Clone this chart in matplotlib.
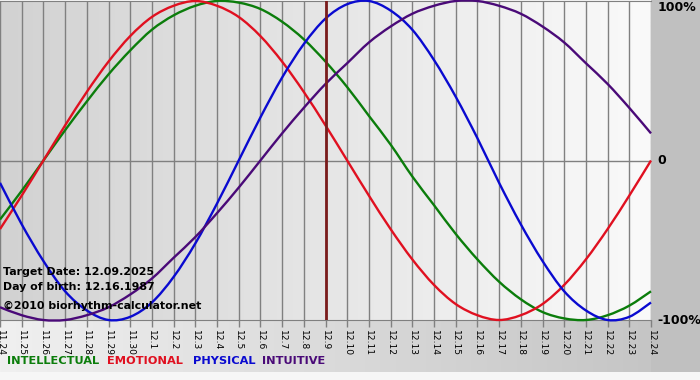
import numpy as np
import matplotlib
matplotlib.use("Agg")
import matplotlib.pyplot as plt
from matplotlib.colors import LinearSegmentedColormap
from matplotlib.path import Path
from matplotlib.patches import PathPatch

# ---- data ----
date_labels = ["11.24", "11.25", "11.26", "11.27", "11.28", "11.29", "11.30",
               "12.1", "12.2", "12.3", "12.4", "12.5", "12.6", "12.7", "12.8", "12.9",
               "12.10", "12.11", "12.12", "12.13", "12.14", "12.15", "12.16", "12.17",
               "12.18", "12.19", "12.20", "12.21", "12.22", "12.23", "12.24"]
intellectual = [-0.37, -0.19, 0.00, 0.19, 0.37, 0.54, 0.69, 0.82, 0.91, 0.97, 1.00,
                0.99, 0.95, 0.87, 0.76, 0.62, 0.46, 0.28, 0.10, -0.10, -0.28, -0.46,
                -0.62, -0.76, -0.87, -0.95, -0.99, -1.00, -0.97, -0.91, -0.82]
emotional = [-0.43, -0.22, 0.00, 0.22, 0.43, 0.62, 0.78, 0.90, 0.97, 1.00, 0.97,
             0.90, 0.78, 0.62, 0.43, 0.22, 0.00, -0.22, -0.43, -0.62, -0.78, -0.90,
             -0.97, -1.00, -0.97, -0.90, -0.78, -0.62, -0.43, -0.22, 0.00]
physical = [-0.14, -0.40, -0.63, -0.82, -0.94, -1.00, -0.98, -0.89, -0.73, -0.52, -0.27,
            0.00, 0.27, 0.52, 0.73, 0.89, 0.98, 1.00, 0.94, 0.82, 0.63, 0.40,
            0.14, -0.14, -0.40, -0.63, -0.82, -0.94, -1.00, -0.98, -0.89]
intuitive = [-0.92, -0.97, -1.00, -1.00, -0.97, -0.92, -0.84, -0.74, -0.61, -0.48, -0.33,
             -0.17, 0.00, 0.17, 0.33, 0.48, 0.61, 0.74, 0.84, 0.92, 0.97, 1.00,
             1.00, 0.97, 0.92, 0.84, 0.74, 0.61, 0.48, 0.33, 0.17]
target_index = 15  # 12.9
target_text = "Target Date: 12.09.2025"
birth_text = "Day of birth: 12.16.1987"
credit_text = "\u00a92010 biorhythm-calculator.net"
y_labels = ["100%", "0", "-100%"]
y_values = [1, 0, -1]

series = [("INTELLECTUAL", intellectual, "#0b7d0b"),
          ("EMOTIONAL", emotional, "#e01020"),
          ("PHYSICAL", physical, "#0a0ad0"),
          ("INTUITIVE", intuitive, "#4a0a78")]


def smooth_path(x, y):
    """Catmull-Rom style cubic Bezier path through the given points."""
    x = np.asarray(x, float)
    y = np.asarray(y, float)
    pts = np.column_stack([x, y])
    ext = np.vstack([pts[0], pts, pts[-1]])
    verts = [pts[0]]
    codes = [Path.MOVETO]
    for i in range(len(pts) - 1):
        p0, p1, p2, p3 = ext[i], ext[i + 1], ext[i + 2], ext[i + 3]
        c1 = p1 + (p2 - p0) / 6.0
        c2 = p2 - (p3 - p1) / 6.0
        verts += [c1, c2, p2]
        codes += [Path.CURVE4] * 3
    return Path(np.array(verts), codes)


W, H = 700, 380
fig = plt.figure(figsize=(W / 100, H / 100), dpi=100)
fig.patch.set_facecolor("#f6f6f6")

# background layer in pixel coordinates
bg = fig.add_axes([0, 0, 1, 1], zorder=0)
bg.set_xlim(0, W)
bg.set_ylim(H, 0)
bg.axis("off")
bottom_cmap = LinearSegmentedColormap.from_list("b", ["#f0f0f0", "#c2c2c2"])
bg.imshow(np.linspace(0, 1, 256).reshape(1, -1), cmap=bottom_cmap, aspect="auto",
          extent=(0, W, 372, 320), zorder=0)
bg.add_patch(plt.Rectangle((651, 0), W - 651, 372, color="#c0c0c0", zorder=1, lw=0))

# plot area
ax = fig.add_axes([0, 60 / H, 651 / W, 319 / H], zorder=1)
ax.set_facecolor("none")
plot_cmap = LinearSegmentedColormap.from_list("p", ["#d2d2d2", "#fafafa"])
days = np.arange(len(date_labels))
ax.set_xlim(days[0], days[-1])
ax.set_ylim(-1, 1)
ax.imshow(np.linspace(0, 1, 256).reshape(1, -1), cmap=plot_cmap, aspect="auto",
          extent=(days[0], days[-1], -1, 1), zorder=0)

ax.set_xticks(days)
ax.set_xticklabels(date_labels, rotation=-90, fontsize=6.6, family="DejaVu Sans")
ax.tick_params(axis="x", length=5, width=1, color="#808080", pad=2)
ax.set_yticks([])
ax.grid(axis="x", color="#808080", lw=1)
for s in ["left", "right"]:
    ax.spines[s].set_visible(False)
for s in ["top", "bottom"]:
    ax.spines[s].set_color("#808080")
ax.axhline(0, color="#808080", lw=1, zorder=1)
for gl in ax.get_xgridlines():
    gl.set_zorder(1)

for name, vals, col in series:
    patch = PathPatch(smooth_path(days, vals), fill=False, edgecolor=col, lw=1.7,
                      zorder=3, clip_on=False, joinstyle="round")
    ax.add_patch(patch)

ax.axvline(days[target_index], color="#7a1c1c", lw=2, zorder=4)

for lab, yv in zip(y_labels, y_values):
    va = "top" if yv == 1 else "center"
    ax.text(1.01, yv, lab, transform=ax.get_yaxis_transform(), ha="left", va=va,
            fontsize=9, fontweight="bold", family="DejaVu Sans", color="black")

text_rows = [(target_text, 272), (birth_text, 287), (credit_text, 306)]
for t, py in text_rows:
    ax.text(3 / 651, (380 - py - 60) / 159.5 - 1, t,
            ha="left", va="center", fontsize=7.9, fontweight="bold",
            transform=ax.get_yaxis_transform(), color="black", zorder=5)

legend_x = [7, 107, 193, 262]
for (name, vals, col), lx in zip(series, legend_x):
    fig.text(lx / W, (H - 361) / H, name, color=col, fontsize=8.2, fontweight="bold",
             ha="left", va="center", family="DejaVu Sans")

fig.savefig("out.png", dpi=100, facecolor=fig.get_facecolor())
